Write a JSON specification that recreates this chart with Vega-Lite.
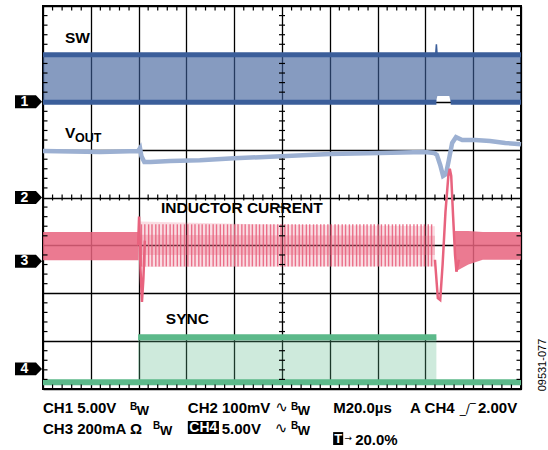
{
  "$schema": "https://vega.github.io/schema/vega-lite/v6.json",
  "width": 478,
  "height": 383,
  "autosize": {"type": "none"},
  "padding": {"left": 43, "top": 6, "right": 27, "bottom": 61},
  "background": "white",
  "config": {
    "view": {"stroke": "black", "strokeWidth": 2},
    "axis": {"grid": true, "gridColor": "black", "gridWidth": 1.3, "gridOpacity": 1, "labels": false, "ticks": false, "domain": false, "titleColor": "transparent", "zindex": 1},
    "axisX": {"tickCount": 10},
    "axisY": {"tickCount": 8},
    "text": {"font": "Liberation Sans", "fontWeight": "bold", "color": "black"}
  },
  "datasets": {
    "sw": [
      {"t": 0, "lo": 5.99, "hi": 6.98},
      {"t": 8.22, "lo": 5.99, "hi": 6.98},
      {"t": 8.25, "lo": 6.12, "hi": 6.98},
      {"t": 8.5, "lo": 6.12, "hi": 6.98},
      {"t": 8.53, "lo": 5.99, "hi": 6.98},
      {"t": 10, "lo": 5.99, "hi": 6.98}
    ],
    "swedge": [
      {"t": 0, "v": 6.98, "e": "top"},
      {"t": 10, "v": 6.98, "e": "top"},
      {"t": 0, "v": 5.99, "e": "bot"},
      {"t": 8.23, "v": 5.99, "e": "bot"},
      {"t": 8.53, "v": 5.99, "e": "bot2"},
      {"t": 10, "v": 5.99, "e": "bot2"}
    ],
    "swspike": [
      {"t": 8.215, "v": 6.98}, {"t": 8.23, "v": 7.2}, {"t": 8.245, "v": 6.98}
    ],
    "vout": [
      {"t": 0, "v": 4.97}, {"t": 1.2, "v": 4.95}, {"t": 1.99, "v": 4.97}, {"t": 2.03, "v": 5.03},
      {"t": 2.06, "v": 4.86}, {"t": 2.12, "v": 4.74}, {"t": 2.25, "v": 4.74}, {"t": 2.66, "v": 4.76},
      {"t": 3.28, "v": 4.78}, {"t": 4.0, "v": 4.82}, {"t": 4.98, "v": 4.86}, {"t": 6.0, "v": 4.91},
      {"t": 7.05, "v": 4.93}, {"t": 7.99, "v": 4.95}, {"t": 8.18, "v": 4.93}, {"t": 8.24, "v": 4.89},
      {"t": 8.31, "v": 4.68}, {"t": 8.37, "v": 4.45}, {"t": 8.43, "v": 4.49}, {"t": 8.49, "v": 4.78},
      {"t": 8.56, "v": 5.14}, {"t": 8.64, "v": 5.26}, {"t": 8.77, "v": 5.2}, {"t": 9.04, "v": 5.2},
      {"t": 9.35, "v": 5.18}, {"t": 9.67, "v": 5.14}, {"t": 10, "v": 5.11}
    ],
    "pinkdense": [
      {"t": 0, "lo": 2.69, "hi": 3.28, "seg": "left"},
      {"t": 2.0, "lo": 2.69, "hi": 3.28, "seg": "left"},
      {"t": 8.62, "lo": 2.45, "hi": 3.3, "seg": "right"},
      {"t": 8.9, "lo": 2.6, "hi": 3.3, "seg": "right"},
      {"t": 9.2, "lo": 2.7, "hi": 3.28, "seg": "right"},
      {"t": 10, "lo": 2.7, "hi": 3.28, "seg": "right"}
    ],
    "pinkmid": [
      {"t": 2.03, "lo": 2.55, "hi": 3.5},
      {"t": 4.0, "lo": 2.55, "hi": 3.45},
      {"t": 6.0, "lo": 2.56, "hi": 3.42},
      {"t": 8.2, "lo": 2.56, "hi": 3.4}
    ],
    "pinkmidcore": [
      {"t": 2.03, "lo": 2.8, "hi": 3.22},
      {"t": 8.2, "lo": 2.8, "hi": 3.2}
    ],
    "pinklines": [
      {"t": 2.06}, {"t": 2.13}, {"t": 2.21}, {"t": 2.28}, {"t": 2.36}, {"t": 2.43}, {"t": 2.51}, {"t": 2.58},
      {"t": 2.66}, {"t": 2.73}, {"t": 2.81}, {"t": 2.88}, {"t": 2.96}, {"t": 3.03}, {"t": 3.11}, {"t": 3.18},
      {"t": 3.26}, {"t": 3.33}, {"t": 3.41}, {"t": 3.48}, {"t": 3.56}, {"t": 3.63}, {"t": 3.71}, {"t": 3.78},
      {"t": 3.86}, {"t": 3.93}, {"t": 4.01}, {"t": 4.08}, {"t": 4.16}, {"t": 4.23}, {"t": 4.31}, {"t": 4.38},
      {"t": 4.46}, {"t": 4.53}, {"t": 4.61}, {"t": 4.68}, {"t": 4.76}, {"t": 4.83}, {"t": 4.91}, {"t": 4.98},
      {"t": 5.06}, {"t": 5.13}, {"t": 5.21}, {"t": 5.28}, {"t": 5.36}, {"t": 5.43}, {"t": 5.51}, {"t": 5.58},
      {"t": 5.66}, {"t": 5.73}, {"t": 5.81}, {"t": 5.88}, {"t": 5.96}, {"t": 6.03}, {"t": 6.11}, {"t": 6.18},
      {"t": 6.26}, {"t": 6.33}, {"t": 6.41}, {"t": 6.48}, {"t": 6.56}, {"t": 6.63}, {"t": 6.71}, {"t": 6.78},
      {"t": 6.86}, {"t": 6.93}, {"t": 7.01}, {"t": 7.08}, {"t": 7.16}, {"t": 7.23}, {"t": 7.31}, {"t": 7.38},
      {"t": 7.46}, {"t": 7.53}, {"t": 7.61}, {"t": 7.68}, {"t": 7.76}, {"t": 7.83}, {"t": 7.91}, {"t": 7.98},
      {"t": 8.06}, {"t": 8.13}
    ],
    "pinktrans": [
      {"t": 1.99, "v": 3.0, "k": "a"}, {"t": 2.01, "v": 3.6, "k": "a"}, {"t": 2.04, "v": 2.5, "k": "a"},
      {"t": 2.07, "v": 1.82, "k": "a"}, {"t": 2.1, "v": 2.3, "k": "a"}, {"t": 2.13, "v": 3.1, "k": "a"},
      {"t": 8.2, "v": 2.7, "k": "b"}, {"t": 8.26, "v": 1.9, "k": "b"}, {"t": 8.31, "v": 1.86, "k": "b"},
      {"t": 8.36, "v": 2.6, "k": "b"}, {"t": 8.42, "v": 3.7, "k": "b"}, {"t": 8.48, "v": 4.45, "k": "b"},
      {"t": 8.51, "v": 4.6, "k": "b"}, {"t": 8.54, "v": 4.45, "k": "b"}, {"t": 8.58, "v": 3.6, "k": "b"},
      {"t": 8.62, "v": 2.8, "k": "b"}, {"t": 8.65, "v": 2.45, "k": "b"}, {"t": 8.7, "v": 2.7, "k": "b"}
    ],
    "sync": [
      {"t": 1.99, "lo": 0.14, "hi": 1.08},
      {"t": 8.23, "lo": 0.14, "hi": 1.08}
    ],
    "syncedge": [
      {"t": 0, "v": 0.14, "e": "base"}, {"t": 10, "v": 0.14, "e": "base"},
      {"t": 1.99, "v": 1.08, "e": "top"}, {"t": 8.23, "v": 1.08, "e": "top"}
    ],
    "xticks": [
      {"t": 0.2}, {"t": 0.4}, {"t": 0.6}, {"t": 0.8}, {"t": 1.2}, {"t": 1.4}, {"t": 1.6}, {"t": 1.8},
      {"t": 2.2}, {"t": 2.4}, {"t": 2.6}, {"t": 2.8}, {"t": 3.2}, {"t": 3.4}, {"t": 3.6}, {"t": 3.8},
      {"t": 4.2}, {"t": 4.4}, {"t": 4.6}, {"t": 4.8}, {"t": 5.2}, {"t": 5.4}, {"t": 5.6}, {"t": 5.8},
      {"t": 6.2}, {"t": 6.4}, {"t": 6.6}, {"t": 6.8}, {"t": 7.2}, {"t": 7.4}, {"t": 7.6}, {"t": 7.8},
      {"t": 8.2}, {"t": 8.4}, {"t": 8.6}, {"t": 8.8}, {"t": 9.2}, {"t": 9.4}, {"t": 9.6}, {"t": 9.8}
    ],
    "yticks": [
      {"d": 0.2}, {"d": 0.4}, {"d": 0.6}, {"d": 0.8}, {"d": 1.2}, {"d": 1.4}, {"d": 1.6}, {"d": 1.8},
      {"d": 2.2}, {"d": 2.4}, {"d": 2.6}, {"d": 2.8}, {"d": 3.2}, {"d": 3.4}, {"d": 3.6}, {"d": 3.8},
      {"d": 4.2}, {"d": 4.4}, {"d": 4.6}, {"d": 4.8}, {"d": 5.2}, {"d": 5.4}, {"d": 5.6}, {"d": 5.8},
      {"d": 6.2}, {"d": 6.4}, {"d": 6.6}, {"d": 6.8}, {"d": 7.2}, {"d": 7.4}, {"d": 7.6}, {"d": 7.8}
    ],
    "markers": [
      {"n": "1", "d": 6}, {"n": "2", "d": 4}, {"n": "3", "d": 2.67}, {"n": "4", "d": 0.42}
    ],
    "big": [
      {"t": 0.46, "d": 7.33, "label": "SW"},
      {"t": 0.46, "d": 5.34, "label": "V"},
      {"t": 2.47, "d": 3.79, "label": "INDUCTOR CURRENT"},
      {"t": 2.57, "d": 1.47, "label": "SYNC"}
    ],
    "sub": [{"t": 0.67, "d": 5.25, "label": "OUT"}],
    "bottom": [
      {"t": 0, "d": -0.5, "label": "CH1 5.00V"},
      {"t": 3.03, "d": -0.5, "label": "CH2 100mV"},
      {"t": 6.07, "d": -0.5, "label": "M20.0µs"},
      {"t": 7.68, "d": -0.5, "label": "A CH4"},
      {"t": 9.1, "d": -0.5, "label": "2.00V"},
      {"t": 0, "d": -0.93, "label": "CH3 200mA Ω"},
      {"t": 3.74, "d": -0.93, "label": "5.00V"},
      {"t": 6.53, "d": -1.17, "label": "20.0%"}
    ],
    "bsmall": [
      {"t": 1.82, "d": -0.43, "label": "B"}, {"t": 5.19, "d": -0.43, "label": "B"},
      {"t": 2.3, "d": -0.835, "label": "B"}, {"t": 5.19, "d": -0.835, "label": "B"}
    ],
    "wsub": [
      {"t": 1.96, "d": -0.54, "label": "W"}, {"t": 5.33, "d": -0.54, "label": "W"},
      {"t": 2.45, "d": -0.96, "label": "W"}, {"t": 5.33, "d": -0.96, "label": "W"}
    ],
    "sine": [
      {"t": 4.86, "d": -0.49, "label": "∿"}, {"t": 4.85, "d": -0.92, "label": "∿"}
    ],
    "boxes": [
      {"t": 3.03, "t2": 3.68, "d": -0.67, "d2": -0.94, "label": "CH4"},
      {"t": 6.07, "t2": 6.28, "d": -0.9, "d2": -1.17, "label": "T"}
    ]
  },
  "layer": [
    {
      "data": {"name": "sw"},
      "mark": {"type": "area", "color": "#3b5e9a", "opacity": 0.62},
      "encoding": {
        "x": {"field": "t", "type": "quantitative", "title": null, "scale": {"domain": [0, 10], "nice": false, "zero": false}},
        "y": {"field": "lo", "type": "quantitative", "title": null, "scale": {"domain": [0, 8], "nice": false, "zero": false}},
        "y2": {"field": "hi"}
      }
    },
    {
      "data": {"name": "swedge"},
      "mark": {"type": "line", "color": "#3b5e9a", "strokeWidth": 5},
      "encoding": {
        "x": {"field": "t", "type": "quantitative"},
        "y": {"field": "v", "type": "quantitative"},
        "detail": {"field": "e"}
      }
    },
    {
      "data": {"name": "swspike"},
      "mark": {"type": "line", "color": "#3b5e9a", "strokeWidth": 1.5},
      "encoding": {
        "x": {"field": "t", "type": "quantitative"},
        "y": {"field": "v", "type": "quantitative"}
      }
    },
    {
      "data": {"name": "vout"},
      "mark": {"type": "line", "color": "#9cb0d2", "strokeWidth": 4.5},
      "encoding": {
        "x": {"field": "t", "type": "quantitative"},
        "y": {"field": "v", "type": "quantitative"}
      }
    },
    {
      "data": {"name": "pinkdense"},
      "mark": {"type": "area", "color": "#e8637e", "opacity": 0.85},
      "encoding": {
        "x": {"field": "t", "type": "quantitative"},
        "y": {"field": "lo", "type": "quantitative"},
        "y2": {"field": "hi"},
        "detail": {"field": "seg"}
      }
    },
    {
      "data": {"name": "pinkmid"},
      "mark": {"type": "area", "color": "#e8637e", "opacity": 0.22},
      "encoding": {
        "x": {"field": "t", "type": "quantitative"},
        "y": {"field": "lo", "type": "quantitative"},
        "y2": {"field": "hi"}
      }
    },
    {
      "data": {"name": "pinkmidcore"},
      "mark": {"type": "area", "color": "#e8637e", "opacity": 0.3},
      "encoding": {
        "x": {"field": "t", "type": "quantitative"},
        "y": {"field": "lo", "type": "quantitative"},
        "y2": {"field": "hi"}
      }
    },
    {
      "data": {"name": "pinklines"},
      "mark": {"type": "rule", "color": "#e8637e", "strokeWidth": 1.4, "opacity": 0.9},
      "encoding": {
        "x": {"field": "t", "type": "quantitative"},
        "y": {"datum": 2.56, "type": "quantitative"},
        "y2": {"datum": 3.44}
      }
    },
    {
      "data": {"name": "pinktrans"},
      "mark": {"type": "line", "color": "#e8637e", "strokeWidth": 2.5},
      "encoding": {
        "x": {"field": "t", "type": "quantitative"},
        "y": {"field": "v", "type": "quantitative"},
        "detail": {"field": "k"}
      }
    },
    {
      "data": {"name": "sync"},
      "mark": {"type": "area", "color": "#5cb98a", "opacity": 0.3},
      "encoding": {
        "x": {"field": "t", "type": "quantitative"},
        "y": {"field": "lo", "type": "quantitative"},
        "y2": {"field": "hi"}
      }
    },
    {
      "data": {"name": "syncedge"},
      "mark": {"type": "line", "color": "#5cb98a", "strokeWidth": 6},
      "encoding": {
        "x": {"field": "t", "type": "quantitative"},
        "y": {"field": "v", "type": "quantitative"},
        "detail": {"field": "e"}
      }
    },
    {
      "data": {"name": "xticks"},
      "mark": {"type": "tick", "orient": "vertical", "size": 9, "thickness": 1.2, "color": "black", "opacity": 1, "clip": true},
      "encoding": {"x": {"field": "t", "type": "quantitative"}, "y": {"datum": 8, "type": "quantitative"}}
    },
    {
      "data": {"name": "xticks"},
      "mark": {"type": "tick", "orient": "vertical", "size": 9, "thickness": 1.2, "color": "black", "opacity": 1, "clip": true},
      "encoding": {"x": {"field": "t", "type": "quantitative"}, "y": {"datum": 0, "type": "quantitative"}}
    },
    {
      "data": {"name": "xticks"},
      "mark": {"type": "tick", "orient": "vertical", "size": 6, "thickness": 1.2, "color": "black", "opacity": 1},
      "encoding": {"x": {"field": "t", "type": "quantitative"}, "y": {"datum": 4, "type": "quantitative"}}
    },
    {
      "data": {"name": "yticks"},
      "mark": {"type": "tick", "orient": "horizontal", "size": 9, "thickness": 1.2, "color": "black", "opacity": 1, "clip": true},
      "encoding": {"y": {"field": "d", "type": "quantitative"}, "x": {"datum": 0, "type": "quantitative"}}
    },
    {
      "data": {"name": "yticks"},
      "mark": {"type": "tick", "orient": "horizontal", "size": 9, "thickness": 1.2, "color": "black", "opacity": 1, "clip": true},
      "encoding": {"y": {"field": "d", "type": "quantitative"}, "x": {"datum": 10, "type": "quantitative"}}
    },
    {
      "data": {"name": "yticks"},
      "mark": {"type": "tick", "orient": "horizontal", "size": 6, "thickness": 1.2, "color": "black", "opacity": 1},
      "encoding": {"y": {"field": "d", "type": "quantitative"}, "x": {"datum": 5, "type": "quantitative"}}
    },
    {
      "data": {"name": "markers"},
      "mark": {"type": "point", "filled": true, "color": "black", "opacity": 1, "size": 729, "shape": "M-1,-0.48L0.55,-0.48L1,0L0.55,0.48L-1,0.48Z"},
      "encoding": {"x": {"datum": -0.303, "type": "quantitative"}, "y": {"field": "d", "type": "quantitative"}}
    },
    {
      "data": {"name": "markers"},
      "mark": {"type": "text", "color": "white", "fontSize": 14, "align": "center", "baseline": "middle"},
      "encoding": {"x": {"datum": -0.39, "type": "quantitative"}, "y": {"field": "d", "type": "quantitative"}, "text": {"field": "n"}}
    },
    {
      "data": {"name": "big"},
      "mark": {"type": "text", "fontSize": 15.5, "align": "left", "baseline": "middle"},
      "encoding": {"x": {"field": "t", "type": "quantitative"}, "y": {"field": "d", "type": "quantitative"}, "text": {"field": "label"}}
    },
    {
      "data": {"name": "sub"},
      "mark": {"type": "text", "fontSize": 12.5, "align": "left", "baseline": "middle"},
      "encoding": {"x": {"field": "t", "type": "quantitative"}, "y": {"field": "d", "type": "quantitative"}, "text": {"field": "label"}}
    },
    {
      "data": {"name": "bottom"},
      "mark": {"type": "text", "fontSize": 15, "align": "left", "baseline": "alphabetic"},
      "encoding": {"x": {"field": "t", "type": "quantitative"}, "y": {"field": "d", "type": "quantitative"}, "text": {"field": "label"}}
    },
    {
      "data": {"name": "bsmall"},
      "mark": {"type": "text", "fontSize": 10, "align": "left", "baseline": "alphabetic"},
      "encoding": {"x": {"field": "t", "type": "quantitative"}, "y": {"field": "d", "type": "quantitative"}, "text": {"field": "label"}}
    },
    {
      "data": {"name": "wsub"},
      "mark": {"type": "text", "fontSize": 13, "align": "left", "baseline": "alphabetic"},
      "encoding": {"x": {"field": "t", "type": "quantitative"}, "y": {"field": "d", "type": "quantitative"}, "text": {"field": "label"}}
    },
    {
      "data": {"name": "sine"},
      "mark": {"type": "text", "font": "DejaVu Sans", "fontWeight": "normal", "fontSize": 15, "align": "left", "baseline": "alphabetic"},
      "encoding": {"x": {"field": "t", "type": "quantitative"}, "y": {"field": "d", "type": "quantitative"}, "text": {"field": "label"}}
    },
    {
      "data": {"values": [{"t": 8.72, "d": -0.5, "label": "_/‾"}]},
      "mark": {"type": "text", "font": "DejaVu Sans", "fontWeight": "normal", "fontSize": 12, "align": "left", "baseline": "alphabetic"},
      "encoding": {"x": {"field": "t", "type": "quantitative"}, "y": {"field": "d", "type": "quantitative"}, "text": {"field": "label"}}
    },
    {
      "data": {"name": "boxes"},
      "mark": {"type": "rect", "color": "black", "opacity": 1},
      "encoding": {"x": {"field": "t", "type": "quantitative"}, "x2": {"field": "t2"}, "y": {"field": "d", "type": "quantitative"}, "y2": {"field": "d2"}}
    },
    {
      "data": {"name": "boxes"},
      "transform": [{"filter": "datum.label == 'CH4'"}],
      "mark": {"type": "text", "color": "white", "fontSize": 14, "align": "center", "baseline": "middle"},
      "encoding": {"x": {"datum": 3.355, "type": "quantitative"}, "y": {"datum": -0.805, "type": "quantitative"}, "text": {"field": "label"}}
    },
    {
      "data": {"name": "boxes"},
      "transform": [{"filter": "datum.label == 'T'"}],
      "mark": {"type": "text", "color": "white", "fontSize": 13, "align": "center", "baseline": "middle"},
      "encoding": {"x": {"datum": 6.175, "type": "quantitative"}, "y": {"datum": -1.035, "type": "quantitative"}, "text": {"field": "label"}}
    },
    {
      "data": {"values": [{"t": 6.31, "d": -1.02, "label": "→"}]},
      "mark": {"type": "text", "font": "DejaVu Sans", "fontWeight": "normal", "fontSize": 9, "align": "left", "baseline": "middle"},
      "encoding": {"x": {"field": "t", "type": "quantitative"}, "y": {"field": "d", "type": "quantitative"}, "text": {"field": "label"}}
    },
    {
      "data": {"values": [{"t": 10.46, "d": 0.5, "label": "09531-077"}]},
      "mark": {"type": "text", "fontWeight": "normal", "fontSize": 11, "angle": 270, "align": "center", "baseline": "middle"},
      "encoding": {"x": {"field": "t", "type": "quantitative"}, "y": {"field": "d", "type": "quantitative"}, "text": {"field": "label"}}
    }
  ]
}
